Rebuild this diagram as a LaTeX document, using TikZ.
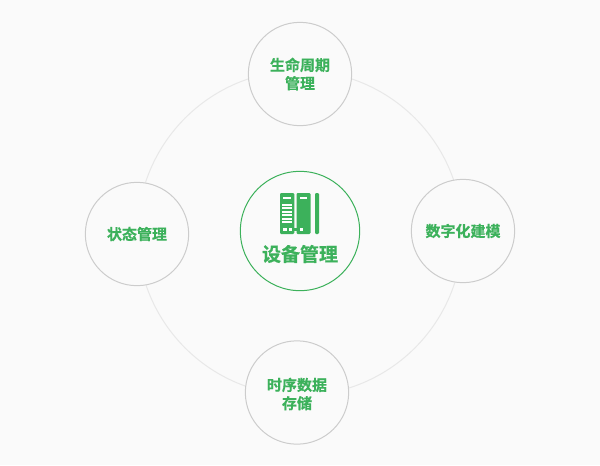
\documentclass[tikz,border=0pt]{standalone}
\usepackage{fontspec}
\setmainfont{Noto Sans CJK SC}[BoldFont={Noto Sans CJK SC Bold},BoldFeatures={FakeBold=0.6}]
\usepackage{xcolor}
\usetikzlibrary{positioning}
\definecolor{leafgreen}{HTML}{3CB15B}
\definecolor{pagegray}{HTML}{FAFAFA}

\begin{document}
\begin{tikzpicture}[
    x=0.75pt, y=-0.75pt,
    hub/.style={circle, draw=leafgreen, fill=pagegray, line width=0.75pt, minimum size=89.5pt, inner sep=0pt},
    topic/.style={circle, draw=black!20, fill=pagegray, line width=0.75pt, minimum size=77.5pt, inner sep=0pt},
    topiclabel/.style={text=leafgreen, font=\bfseries\fontsize{11.25pt}{13.7pt}\selectfont, align=center},
    ring/.style={circle, draw=black!9, line width=0.75pt, minimum size=243.75pt, inner sep=0pt},
    bookpart/.style={fill=leafgreen, rounded corners=0.8pt},
    gap/.style={fill=white}
]
\useasboundingbox (0,0) rectangle (600,465);
\fill[pagegray] (0,0) rectangle (600,465);

% Ring
\node (orbit) [ring] at (300,233) {};

% Modules
\node (device) [hub] at (300,231) {};
\node (lifecycle) [topic] at (300,74) {};
\node (modeling) [topic] at (463,231) {};
\node (storage) [topic] at (297,392.5) {};
\node (status) [topic] at (137,234) {};

% Icon
\fill[bookpart] (280,193) rectangle (294.3,234);
\fill[bookpart] (296.5,193) rectangle (310.5,234);
\fill[bookpart] (315,193) rectangle (319,234);
\fill[leafgreen] (294,228) rectangle (297,230.5);
\fill[gap] (283.3,196.7) rectangle (290.7,199.2);
\fill[gap] (300,196.7) rectangle (306.7,199.2);
\foreach \y in {203.5,207,...,221}
    \fill[gap] (281.8,\y) rectangle (292.3,\y+2);
\fill[gap] (283.3,227.5) rectangle (286.5,230.7);
\fill[gap] (288.5,227.5) rectangle (291.7,230.7);
\fill[gap] (300,227.5) rectangle (302.8,230.7);

% Labels
\node (devicelabel) [text=leafgreen, font=\bfseries\fontsize{14.25pt}{18pt}\selectfont] at (300,254) {设备管理};
\node (lifecyclelabel) [topiclabel] at (300,74) {生命周期\\管理};
\node (modelinglabel) [topiclabel] at (463,231) {数字化建模};
\node (storagelabel) [topiclabel] at (297,394) {时序数据\\存储};
\node (statuslabel) [topiclabel] at (137,234) {状态管理};

\end{tikzpicture}
\end{document}
